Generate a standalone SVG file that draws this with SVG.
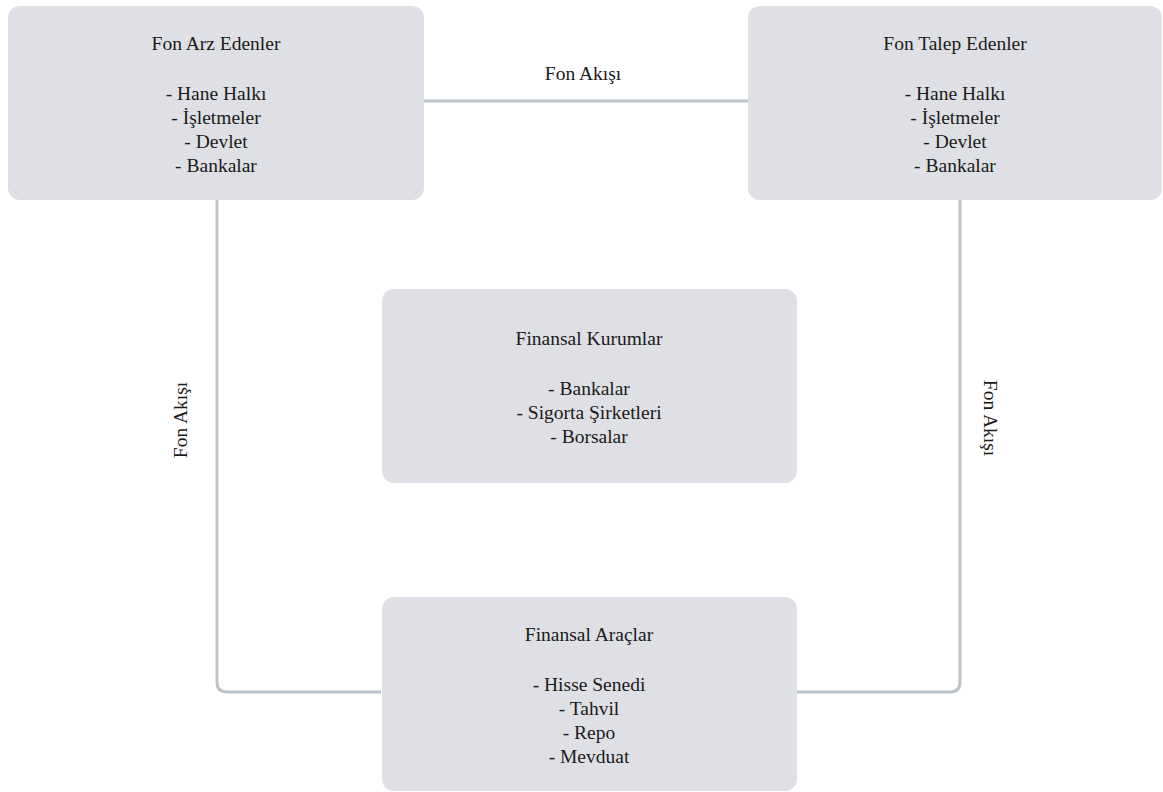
<svg xmlns="http://www.w3.org/2000/svg" width="1163" height="792" viewBox="0 0 1163 792">
<style>
.box{fill:#dfe0e5;}
.c{fill:none;stroke:#bcc3ca;stroke-width:3;}
</style>
<rect width="1163" height="792" fill="#ffffff"/>
<g font-family="Liberation Serif, DejaVu Serif, serif" font-size="19.5" fill="#1a1a1a" text-anchor="middle">
<g id="connectors">
<line class="c" x1="424" y1="101" x2="749" y2="101"/>
<path class="c" d="M217 200 V682 Q217 692 227 692 H381"/>
<path class="c" d="M960 200 V682 Q960 692 950 692 H796"/>
<text x="583" y="80">Fon Akışı</text>
<text transform="translate(187 420) rotate(-90)">Fon Akışı</text>
<text transform="translate(984 418) rotate(90)">Fon Akışı</text>
</g>
<g id="fon-arz-edenler">
<rect class="box" x="8" y="6" width="416" height="194" rx="12"/>
<text x="216" y="50">Fon Arz Edenler</text>
<text x="216" y="100">- Hane Halkı</text>
<text x="216" y="124">- İşletmeler</text>
<text x="216" y="148">- Devlet</text>
<text x="216" y="172">- Bankalar</text>
</g>
<g id="fon-talep-edenler">
<rect class="box" x="748" y="6" width="414" height="194" rx="12"/>
<text x="955" y="50">Fon Talep Edenler</text>
<text x="955" y="100">- Hane Halkı</text>
<text x="955" y="124">- İşletmeler</text>
<text x="955" y="148">- Devlet</text>
<text x="955" y="172">- Bankalar</text>
</g>
<g id="finansal-kurumlar">
<rect class="box" x="382" y="289" width="415" height="194" rx="12"/>
<text x="589" y="345">Finansal Kurumlar</text>
<text x="589" y="395">- Bankalar</text>
<text x="589" y="419">- Sigorta Şirketleri</text>
<text x="589" y="443">- Borsalar</text>
</g>
<g id="finansal-araclar">
<rect class="box" x="382" y="597" width="415" height="194" rx="12"/>
<text x="589" y="641">Finansal Araçlar</text>
<text x="589" y="691">- Hisse Senedi</text>
<text x="589" y="715">- Tahvil</text>
<text x="589" y="739">- Repo</text>
<text x="589" y="763">- Mevduat</text>
</g>
</g>
</svg>
